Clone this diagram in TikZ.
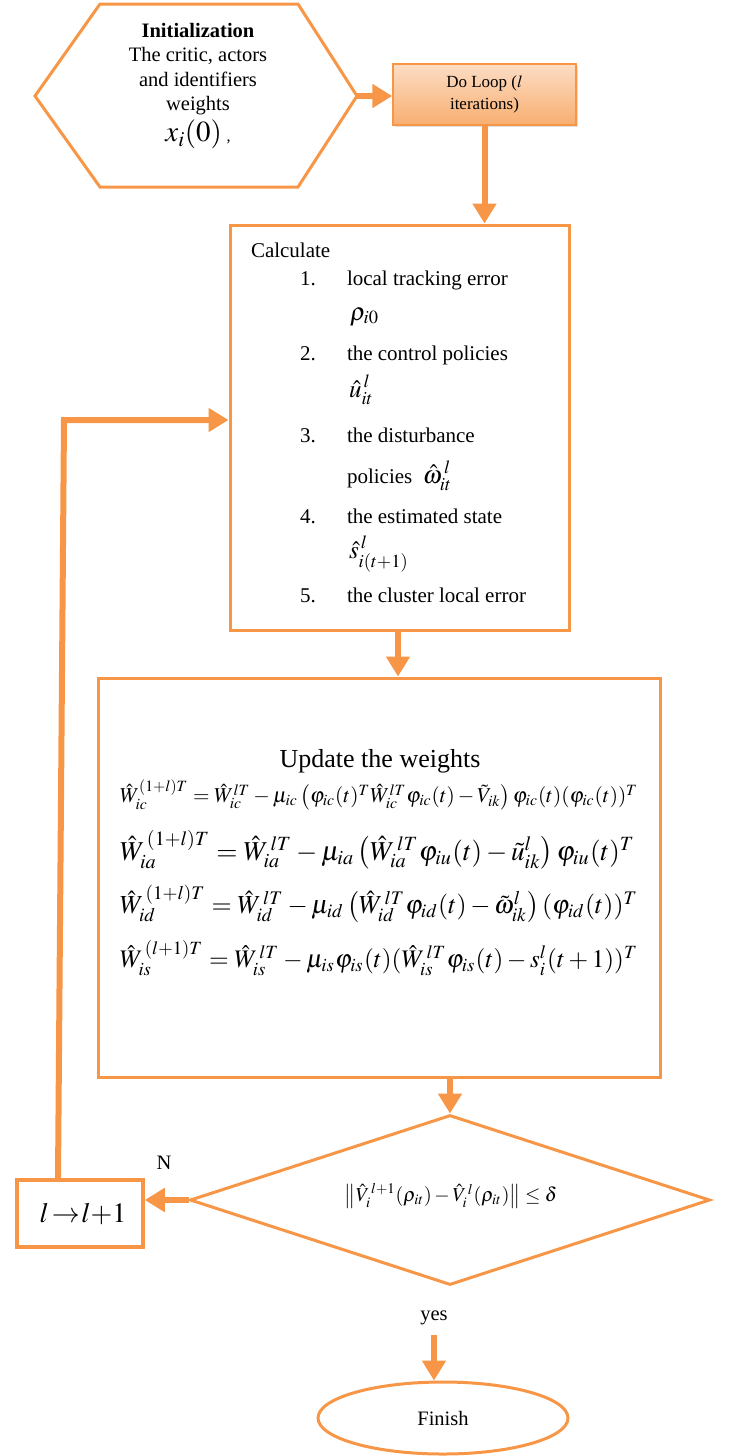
\documentclass[tikz,border=0pt]{standalone}
\usepackage{amsmath}
\usepackage{mathptmx}
\usepackage[no-math]{fontspec}
\setmainfont{Liberation Serif}
\usetikzlibrary{shapes.geometric,arrows.meta,calc,shadows}
\definecolor{org}{HTML}{F79646}
\definecolor{orglight}{HTML}{FCDDC4}
\definecolor{orgdark}{HTML}{F8AE70}
\tikzset{
  box/.style={draw=org, line width=3pt},
  flow/.style={draw=org, line width=6pt, -{Triangle[length=20pt,width=23pt]}},
  plain/.style={inner sep=0pt, outer sep=0pt},
  ftA/.style={font=\fontsize{20.5}{24.5}\selectfont},
  ftB/.style={font=\fontsize{21}{25}\selectfont},
  ftM/.style={font=\fontsize{25}{28}\selectfont},
}
\begin{document}
\begin{tikzpicture}[x=1pt,y=-1pt]
\useasboundingbox (0,0) rectangle (732,1456);
% initialization hexagon
\draw[box] (35,96) -- (100,4) -- (298,4) -- (357,96) -- (298,187) -- (100,187) -- cycle;
\coordinate (initE) at (357,96);
\node[plain, ftA, align=center] (init) at (198,86)
  {\textbf{Initialization}\\The critic, actors\\and identifiers\\weights\\[4pt]{\fontsize{29}{30}\selectfont$x_i(0)$\,{\fontsize{16}{18}\selectfont,}}};
% do loop
\node[draw=org, line width=1.5pt, top color=orglight, bottom color=orgdark,
      minimum width=183pt, minimum height=61pt, align=center, inner sep=0pt,
      font=\fontsize{17}{22.5}\selectfont,
      drop shadow={shadow xshift=2pt, shadow yshift=-2pt, opacity=0.25}] (loop) at (484.5,94.5)
  {Do Loop ($l$\\iterations)};
% calculate box
\node[box, minimum width=339pt, minimum height=405pt, inner sep=0pt] (calc) at (399.5,427.5) {};
\node[plain, ftB, anchor=base west] (c0) at (251,257) {Calculate};
\node[plain, ftB, anchor=base west] (n1) at (300,285) {1.};
\node[plain, ftB, anchor=base west] (i1) at (347,285) {local tracking error};
\node[plain, ftM, anchor=base west] (m1) at (350,320) {$\rho_{i0}$};
\node[plain, ftB, anchor=base west] (n2) at (300,360) {2.};
\node[plain, ftB, anchor=base west] (i2) at (347,360) {the control policies};
\node[plain, ftM, anchor=base west] (m2) at (349,397) {$\hat{u}_{it}^{\,l}$};
\node[plain, ftB, anchor=base west] (n3) at (300,442) {3.};
\node[plain, ftB, anchor=base west] (i3) at (347,442) {the disturbance};
\node[plain, ftB, anchor=base west] (i3b) at (347,483) {policies\enspace{\fontsize{25}{28}\selectfont$\hat{\omega}_{it}^{\,l}$}};
\node[plain, ftB, anchor=base west] (n4) at (300,523) {4.};
\node[plain, ftB, anchor=base west] (i4) at (347,523) {the estimated state};
\node[plain, ftM, anchor=base west] (m4) at (349,558) {$\hat{s}_{i(t+1)}^{\,l}$};
\node[plain, ftB, anchor=base west] (n5) at (300,602) {5.};
\node[plain, ftB, anchor=base west] (i5) at (347,602) {the cluster local error};
% update box
\node[box, minimum width=562pt, minimum height=399pt, inner sep=0pt] (upd) at (379,877.5) {};
\node[plain, anchor=base, font=\fontsize{26}{30}\selectfont] (ut) at (380,767) {Update the weights};
\node[plain, anchor=west] (e1) at (120,795) {\resizebox{518pt}{!}{$\hat W_{ic}^{(1+l)T} = \hat W_{ic}^{lT} - \mu_{ic}\left(\varphi_{ic}(t)^T \hat W_{ic}^{lT}\varphi_{ic}(t) - \tilde V_{ik}\right)\varphi_{ic}(t)(\varphi_{ic}(t))^T$}};
\node[plain, anchor=west] (e2) at (120,850) {\resizebox{515pt}{!}{$\hat W_{ia}^{\,(1+l)T} = \hat W_{ia}^{\,lT} - \mu_{ia}\left(\hat W_{ia}^{\,lT}\varphi_{iu}(t) - \tilde u_{ik}^{l}\right)\varphi_{iu}(t)^T$}};
\node[plain, anchor=west] (e3) at (120,904) {\resizebox{518pt}{!}{$\hat W_{id}^{\,(1+l)T} = \hat W_{id}^{\,lT} - \mu_{id}\left(\hat W_{id}^{\,lT}\varphi_{id}(t) - \tilde \omega_{ik}^{l}\right)(\varphi_{id}(t))^T$}};
\node[plain, anchor=west] (e4) at (120,958) {\resizebox{518pt}{!}{$\hat W_{is}^{\,(l+1)T} = \hat W_{is}^{\,lT} - \mu_{is}\varphi_{is}(t)(\hat W_{is}^{\,lT}\varphi_{is}(t) - s_i^l(t+1))^T$}};
% decision
\node[diamond, box, minimum width=520pt, minimum height=170pt, inner sep=0pt, aspect=3] (dia) at (450,1200) {};
\node[plain] (cond) at (451,1196)
  {\resizebox{212pt}{!}{$\left\|\hat V_i^{\,l+1}(\rho_{it}) - \hat V_i^{\,l}(\rho_{it})\right\| \le \delta$}};
% increment box
\node[draw=org, line width=3.5pt, minimum width=126pt, minimum height=67pt, inner sep=0pt,
      font=\fontsize{28}{30}\selectfont] (inc) at (80,1213.5) {\hspace{6pt}$l\mkern2mu{\rightarrow}\mkern1mu l{+}1$};
\node[plain, ftA] (N) at (164,1163) {N};
\node[plain, ftA] (yes) at (434,1318) {yes};
% finish
\node[ellipse, box, minimum width=250pt, minimum height=72pt, inner sep=0pt, ftA] (fin) at (443,1418) {Finish};
% connectors
\draw[flow] (initE) -- (loop.west |- initE);
\draw[flow] (loop.south) -- (loop.south |- calc.north);
\draw[flow] ([xshift=-1.5pt]calc.south) -- ([xshift=-1.5pt]calc.south |- upd.north);
\draw[flow] (upd.south -| dia.north) -- (dia.north);
\draw[flow] (dia.west) -- (dia.west -| inc.east);
\coordinate (corner) at (64,420);
\draw[flow] ([xshift=-22pt]inc.north) -- (corner) -- (calc.west |- corner);
\draw[flow] (yes.south) ++(0,10) coordinate (ys) -- (ys |- fin.north);
\end{tikzpicture}
\end{document}
